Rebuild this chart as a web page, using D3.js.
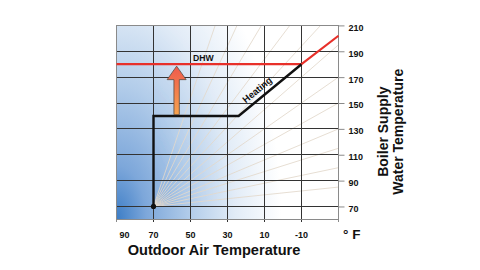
<!DOCTYPE html>
<html><head><meta charset="utf-8">
<script src="https://cdn.jsdelivr.net/npm/d3@7"></script>
<style>
html,body{margin:0;padding:0;background:#fff;}
svg{display:block;font-family:"Liberation Sans",Arial,sans-serif;}
</style></head>
<body>
<svg id="c" width="480" height="270"></svg>
<script>
// ---- data ----
const outdoorTicks = [90, 70, 50, 30, 10, -10];
const gridOutdoor = [70, 50, 30, 10, -10];
const waterTicks = [210, 190, 170, 150, 130, 110, 90, 70];
const gridWater = [190, 170, 150, 130, 110, 90, 70];
const heatingOutdoor = [70, 70, 24, -10];
const heatingWater = [70, 140, 140, 180];
const dhwOutdoor = [90, -10, -30];
const dhwWater = [180, 180, 202];
const fanRatios = [0.15, 0.3, 0.45, 0.6, 0.8, 1.0, 1.25, 1.55, 1.9, 2.4, 3.1, 4.2];
const arrowOutdoor = 57.5;
const arrowFrom = 141;
const arrowTo = 178.5;
const xTitle = "Outdoor Air Temperature";
const yTitle = ["Boiler Supply", "Water Temperature"];

// ---- layout ----
const svg = d3.select("#c");
const x = d3.scaleLinear().domain([90, -30]).range([116.5, 338.5]);
const y = d3.scaleLinear().domain([60, 210]).range([219.4, 25.4]);
const X0 = x(90), X1 = x(-30), Y0 = y(210), Y1 = y(60);

const defs = svg.append("defs");
const bg = defs.append("radialGradient").attr("id","bg")
  .attr("gradientUnits","userSpaceOnUse")
  .attr("cx", X0).attr("cy", Y1).attr("r", 1)
  .attr("gradientTransform", `translate(${X0},${Y1}) scale(165,300) translate(${-X0},${-Y1})`);
bg.append("stop").attr("offset","0%").attr("stop-color","#3c7dc6");
bg.append("stop").attr("offset","18%").attr("stop-color","#7da7da");
bg.append("stop").attr("offset","45%").attr("stop-color","#b3cdea");
bg.append("stop").attr("offset","72%").attr("stop-color","#e2ecf7");
bg.append("stop").attr("offset","100%").attr("stop-color","#ffffff");
const ag = defs.append("linearGradient").attr("id","ag").attr("x1",0).attr("y1",0).attr("x2",0).attr("y2",1);
ag.append("stop").attr("offset","0%").attr("stop-color","#ef5a4c");
ag.append("stop").attr("offset","100%").attr("stop-color","#f6a34e");
defs.append("clipPath").attr("id","clip").append("rect")
  .attr("x",X0).attr("y",Y0).attr("width",X1-X0).attr("height",Y1-Y0);

svg.append("rect").attr("x",X0).attr("y",Y0).attr("width",X1-X0).attr("height",Y1-Y0)
  .attr("fill","url(#bg)");

// fan lines
const fan = svg.append("g").attr("clip-path","url(#clip)");
fanRatios.forEach(r => {
  fan.append("line").attr("x1",x(70)).attr("y1",y(70))
    .attr("x2",x(-130)).attr("y2",y(70 + r*200))
    .attr("stroke","#e3d9cc").attr("stroke-width",1).attr("opacity",0.85);
});

// grid
const g = svg.append("g").attr("shape-rendering","crispEdges");
g.selectAll(".gv").data(gridOutdoor).join("line")
  .attr("x1",d=>x(d)).attr("x2",d=>x(d)).attr("y1",Y0).attr("y2",Y1+3)
  .attr("stroke","#333").attr("stroke-width",1);
g.selectAll(".gh").data(gridWater).join("line")
  .attr("x1",X0).attr("x2",X1).attr("y1",d=>y(d)).attr("y2",d=>y(d))
  .attr("stroke","#333").attr("stroke-width",1);
// border
const b = svg.append("g").attr("shape-rendering","crispEdges");
b.append("rect").attr("x",X0).attr("y",Y0).attr("width",X1-X0).attr("height",Y1-Y0)
  .attr("fill","none").attr("stroke","#8a8a8a").attr("stroke-width",1);
b.append("line").attr("x1",X0).attr("x2",X0).attr("y1",Y1).attr("y2",Y1+3).attr("stroke","#8a8a8a");
b.append("line").attr("x1",X1).attr("x2",X1).attr("y1",Y1).attr("y2",Y1+3).attr("stroke","#8a8a8a");

// right axis
const yAxis = d3.axisRight(y).tickValues(waterTicks).tickSize(6).tickFormat(d3.format("d"));
const ya = svg.append("g").attr("transform",`translate(${X1},0)`).call(yAxis);
ya.select(".domain").attr("stroke","#8a8a8a").attr("d",`M0,${Y0}V${Y1}`);
ya.selectAll(".tick line").attr("stroke","#8a8a8a");
ya.selectAll(".tick text").attr("x",10).attr("dy","0.55em")
  .attr("font-size",9).attr("font-weight","bold").attr("fill","#111")
  .attr("font-family","'Liberation Sans',Arial,sans-serif");

// bottom labels
svg.selectAll(".xl").data(outdoorTicks).join("text")
  .attr("x",(d,i)=> i===0 ? x(d)+3 : x(d))
  .attr("y",237.5)
  .attr("text-anchor",(d,i)=> i===0 ? "start" : "middle")
  .attr("font-size",9).attr("font-weight","bold").attr("fill","#111")
  .text(d=>d);

// lines
const line = d3.line().x(d=>x(d[0])).y(d=>y(d[1]));
svg.append("path").datum(dhwOutdoor.map((d,i)=>[d,dhwWater[i]]))
  .attr("d",line).attr("fill","none").attr("stroke","#e8302a").attr("stroke-width",2.2);
svg.append("path").datum(heatingOutdoor.map((d,i)=>[d,heatingWater[i]]))
  .attr("d",line).attr("fill","none").attr("stroke","#111").attr("stroke-width",2.4)
  .attr("stroke-linejoin","miter");
svg.append("circle").attr("cx",x(70)).attr("cy",y(70)).attr("r",2.6).attr("fill","#111");

// arrow
const ax = x(arrowOutdoor), ayB = y(arrowFrom), ayT = y(arrowTo);
const sw = 2.7, hw = 9.5, hh = 13.5;
svg.append("path")
  .attr("d",`M${ax-sw},${ayB}V${ayT+hh}H${ax-hw}L${ax},${ayT}L${ax+hw},${ayT+hh}H${ax+sw}V${ayB}Z`)
  .attr("fill","url(#ag)").attr("stroke","#5a4a40").attr("stroke-width",0.8).attr("stroke-linejoin","miter");

// labels
svg.append("text").attr("x",x(43)).attr("y",y(180)-3.2)
  .attr("text-anchor","middle").attr("font-size",8.7).attr("font-weight","bold").attr("fill","#111").text("DHW");
const a1 = [x(24), y(140)], a2 = [x(-10), y(180)];
const ang = Math.atan2(a2[1]-a1[1], a2[0]-a1[0]) * 180/Math.PI;
const tx = a1[0] + (a2[0]-a1[0])*0.38, ty = a1[1] + (a2[1]-a1[1])*0.38;
svg.append("text").attr("transform",`translate(${tx},${ty}) rotate(${ang}) translate(0,-5)`)
  .attr("text-anchor","middle").attr("font-size",9.5).attr("font-weight","bold").attr("fill","#111").text("Heating");

svg.append("text").attr("x",214).attr("y",254.5).attr("text-anchor","middle")
  .attr("font-size",14.6).attr("font-weight","bold").attr("fill","#111").text(xTitle);
svg.append("text").attr("x",343).attr("y",239).attr("font-size",13.5).attr("font-weight","bold").attr("fill","#111").text("° F");

yTitle.forEach((t,i)=>{
  svg.append("text").attr("transform",`translate(${i===0?387.5:403},131.7) rotate(-90)`)
    .attr("text-anchor","middle").attr("font-size",14).attr("font-weight","bold").attr("fill","#111").text(t);
});
</script>
</body></html>
